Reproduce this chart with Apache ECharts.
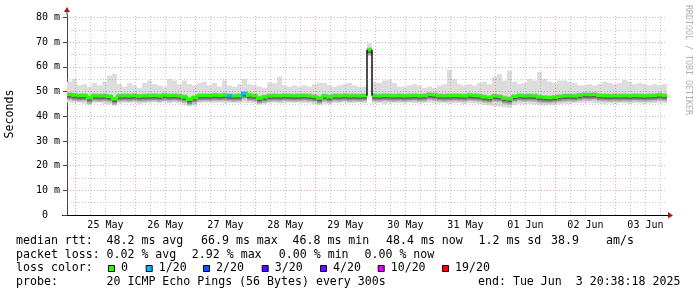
<!DOCTYPE html>
<html><head><meta charset="utf-8">
<script src="https://cdn.jsdelivr.net/npm/echarts@6/dist/echarts.min.js"></script>
<style>html,body{margin:0;padding:0;background:#fff}#c{width:697px;height:297px}</style>
</head><body><div id="c"></div>
<script>
// time axis in hours after 24 May 00:00 ; end = 3 Jun 20:38 (260.633 h), 10 days shown
const START_H = 20.633;
const END_H = 260.633;
const STEP_H = 2;

const medianMs = [
 48.8,48.5,48.3,48.4,47.4,48.3,48.2,48.3,48.0,47.0,48.2,48.3,48.2,48.4,48.1,48.2,48.3,48.4,48.2,48.5,
 48.3,48.4,48.2,47.8,46.8,47.5,48.3,48.4,48.3,48.5,48.4,48.5,48.3,48.2,48.3,49.2,48.5,48.3,47.3,47.8,
 48.2,48.3,48.2,48.4,48.3,48.2,48.3,48.4,48.2,48.0,47.3,48.2,47.8,48.3,48.2,48.4,48.2,48.3,48.2,48.3,
 66.9,48.3,48.2,48.4,48.3,48.2,48.3,48.2,48.3,48.4,48.2,48.3,48.8,48.6,48.3,48.2,48.3,48.4,48.3,48.2,
 48.5,48.4,48.2,47.8,47.6,48.2,48.0,47.3,47.0,48.0,48.4,48.2,48.3,48.2,47.8,47.6,47.5,47.7,48.0,48.2,
 48.3,48.2,48.5,48.8,48.7,48.8,48.4,48.3,48.2,48.3,48.2,48.3,48.2,48.4,48.3,48.2,48.3,48.4,48.6,48.4
];
const smokeHighMs = [
 54,55,52.5,53,52,53.5,52.5,54,56.5,57.2,53,52,53.5,52.5,51.5,53.5,54.5,53,52.5,52,
 55,54.5,53,54.5,53,52.5,53.5,54,52.5,53.5,52,54.5,52.5,52,53,55,53,52.5,52,51.5,
 53.7,53.5,56,52.5,52,52.5,52,52.5,52,53,53.5,53.5,52.5,52,52.5,53,53.5,52.5,52,52,
 69.5,53.7,53.5,54.5,54.7,53.5,52,52,52.5,53,52.5,51.5,52,51.5,52.5,53,58.8,55,53,52.5,
 53,52.5,53.5,54,53,56,57,54.5,58.4,54,53,53.5,55,54.5,58,55,54,53.5,54.5,54.5,
 54,53.5,52.5,52.5,53,52.5,53,54,53.5,53,53.5,54.7,54,53,53.5,53,52.5,53,52.5,53
];
const smokeLowMs = [
 45.5,45.3,45.5,45,44.5,45.3,45.5,45,44.8,44.3,45.2,45.5,45.3,45.5,45,45.2,45.5,45.6,45.3,45.5,
 45.2,45.5,45.3,44.5,44,44.3,45.3,45.5,45.5,45.4,45.6,45.2,45.5,45.4,45.3,45.5,45.4,45.2,44.8,45,
 45.3,45.5,45.2,45.3,45.5,45.4,45.5,45.3,45.2,44.8,44.5,45,44.8,45.3,45.2,45.5,45.3,45.4,45.5,45.3,
 64.5,45.2,45.3,45,45.2,45.4,45.3,45.2,45.5,45.3,45.2,45.4,45.5,45.3,45.2,45.3,45,45.2,45.3,45,
 45.3,45.2,45,44.5,44.3,44,43.8,43.5,43.4,44.5,45,44.8,45,44.8,44.5,44.3,44.5,44.5,44.8,45,
 45,45.2,45.3,45.4,45.5,45.3,45.2,45,45.2,45,45.3,45.2,45,45.3,45.2,45,45.2,45.3,45.2,45.3
];
// loss level index per step (0 = 0/20, 1 = 1/20, ...)
const lossLevel = [
 0,0,0,0,0,0,0,0,0,0,0,0,0,0,0,0,0,0,0,0,
 0,0,0,0,0,0,0,0,0,0,0,0,1,0,0,1,0,0,0,0,
 0,0,0,0,0,0,0,0,0,0,0,0,0,0,0,0,0,0,0,0,
 0,0,0,0,0,0,0,0,0,0,0,0,0,0,0,0,0,0,0,0,
 0,0,0,0,0,0,0,0,0,0,0,0,0,0,0,0,0,0,0,0,
 0,0,0,0,0,0,0,0,0,0,0,0,0,0,0,0,0,0,0,0
];
const lossLabels = ['0','1/20','2/20','3/20','4/20','10/20','19/20'];
const lossColors = ['#26ff00','#00b8ff','#0059ff','#5e00ff','#7e00ff','#dd00ff','#ff0000'];

const dayLabelHours = [36,60,84,108,132,156,180,204,228,252];
const dayLabels = ['25 May','26 May','27 May','28 May','29 May','30 May','31 May','01 Jun','02 Jun','03 Jun'];
const dayBoundaryHours = [24,48,72,96,120,144,168,192,216,240];
const yLabelValues = [0,10,20,30,40,50,60,70,80];
const yMinorValues = [5,15,25,35,45,55,65,75];

const rttStats = ['median rtt:','48.2 ms avg','66.9 ms max','46.8 ms min','48.4 ms now','1.2 ms sd','38.9','am/s'];
const lossStats = ['packet loss:','0.02 % avg','2.92 % max','0.00 % min','0.00 % now'];
const probeText = ['probe:','20 ICMP Echo Pings (56 Bytes) every 300s'];
const endText = 'end: Tue Jun  3 20:38:18 2025';

const FONT = 'DejaVu Sans Mono';

// build custom-series items
const items = medianMs.map((m, i) => [
  START_H + i * STEP_H, START_H + (i + 1) * STEP_H,
  smokeLowMs[i], smokeHighMs[i], m, lossLevel[i], i > 0 ? medianMs[i - 1] : NaN
]);

function renderSmoke(params, api) {
  const x0 = api.value(0), x1 = api.value(1);
  const lo = api.value(2), hi = api.value(3), md = api.value(4);
  const loss = api.value(5), pm = api.value(6);
  const L = api.coord([x0, 0])[0], R = api.coord([x1, 0])[0];
  const Y = v => api.coord([x0, v])[1];
  const band = (a, b, color) => ({type:'rect', shape:{x:L, y:Y(b), width:R-L, height:Y(a)-Y(b)}, style:{fill:color}});
  const ch = [
    band(lo, hi, '#dddddd'),
    band(Math.max(lo, md - 2.4), Math.min(hi, md + 1.0), '#bcbcbc'),
    band(md - 1.8, md + 0.6, '#8e8e8e'),
    band(md - 1.2, md + 0.2, '#606060')
  ];
  const col = lossColors[loss];
  const my = Y(md);
  ch.push({type:'rect', shape:{x:L, y:my - 1.5, width:R - L, height:3}, style:{fill:col}});
  if (!isNaN(pm)) {
    const py = Y(pm);
    if (Math.abs(pm - md) > 5) {
      ch.push({type:'line', shape:{x1:L, y1:py, x2:L, y2:my}, style:{stroke:'#111', lineWidth:1.5}});
    } else if (Math.abs(py - my) > 0.5) {
      ch.push({type:'rect', shape:{x:L - 1, y:Math.min(py, my) - 1.5, width:2, height:Math.abs(py - my) + 3}, style:{fill:col}});
    }
  }
  return {type:'group', children:ch};
}

const minorGrid = 'rgba(140,140,140,0.45)';
const majorGrid = 'rgba(225,60,60,0.45)';
const gridMarks = [];
for (let h = 24; h < END_H; h += 6) {
  const major = dayBoundaryHours.indexOf(h) >= 0;
  gridMarks.push({xAxis:h, lineStyle:{color: major ? majorGrid : minorGrid, type:[1,2], width:1}});
}
yMinorValues.forEach(v => gridMarks.push({yAxis:v, lineStyle:{color:minorGrid, type:[1,2], width:1}}));
yLabelValues.filter(v => v > 0).forEach(v => gridMarks.push({yAxis:v, lineStyle:{color:majorGrid, type:[1,2], width:1}}));

const chart = echarts.init(document.getElementById('c'));
const option = {
  animation:false,
  backgroundColor:'#fff',
  grid:{left:67, right:30, top:15, bottom:82},
  xAxis:{
    type:'value', min:START_H, max:END_H,
    axisLine:{show:true, onZero:false, lineStyle:{color:'#000', width:1}},
    axisTick:{show:false},
    splitLine:{show:false},
    axisLabel:{customValues:dayLabelHours,
      formatter:v => { const k = dayLabelHours.indexOf(v); return k >= 0 ? dayLabels[k] : ''; },
      fontFamily:FONT, fontSize:10, color:'#000', margin:5}
  },
  yAxis:{
    type:'value', min:0, max:81,
    axisLine:{show:true, onZero:false, lineStyle:{color:'#444', width:1}},
    axisTick:{show:true, customValues:yLabelValues, length:4, lineStyle:{color:'#444'}},
    splitLine:{show:false},
    axisLabel:{customValues:yLabelValues, formatter:v => (v === 0 ? '0  ' : (v % 10 === 0 && v <= 80 ? v + ' m' : '')),
      fontFamily:FONT, fontSize:10, color:'#000', margin:7}
  },
  series:[
    {type:'custom', z:2, clip:true, renderItem:renderSmoke, data:items,
     encode:{x:[0,1], y:[2,3]}, silent:true},
    {type:'line', z:5, data:[[START_H,0],[END_H,0]], symbol:'none', lineStyle:{opacity:0}, silent:true,
     markLine:{silent:true, symbol:['none','none'], label:{show:false}, animation:false, data:gridMarks}}
  ]
};
chart.setOption(option);

// decorations: axis arrows, texts, legend
const o = chart.convertToPixel({gridIndex:0}, [START_H, 0]);
const e = chart.convertToPixel({gridIndex:0}, [END_H, 81]);
const ARROW = '#a01818';
const TF = '11.6px ' + FONT;
const txt = (x, y, s) => ({type:'text', x:x, y:y, style:{text:s, font:TF, fill:'#000', textVerticalAlign:'middle'}});
const g = [
  {type:'line', shape:{x1:o[0]-5, y1:o[1]+0.5, x2:o[0], y2:o[1]+0.5}, style:{stroke:'#000', lineWidth:1}},
  {type:'line', shape:{x1:o[0], y1:e[1], x2:o[0], y2:e[1]-3}, style:{stroke:'#444', lineWidth:1}},
  {type:'line', shape:{x1:e[0], y1:o[1]+0.5, x2:e[0]+1, y2:o[1]+0.5}, style:{stroke:'#000', lineWidth:1}},
  {type:'polygon', shape:{points:[[o[0]-3, e[1]-3],[o[0]+3, e[1]-3],[o[0], e[1]-8]]}, style:{fill:ARROW}},
  {type:'polygon', shape:{points:[[e[0]+1, o[1]-3],[e[0]+1, o[1]+3.5],[e[0]+6, o[1]+0.5]]}, style:{fill:ARROW}},
  {type:'text', x:10, y:114, rotation:Math.PI/2, style:{text:'Seconds', font:TF, fill:'#000', textAlign:'center', textVerticalAlign:'middle'}},
  {type:'text', x:688, y:60, rotation:-Math.PI/2, style:{text:'RRDTOOL / TOBI OETIKER', font:'8.3px ' + FONT, fill:'#b0b0b0', textAlign:'center', textVerticalAlign:'middle'}}
];
const rttX = [16, 106.5, 201, 292.5, 386, 478.5, 551, 606];
rttStats.forEach((s, k) => g.push(txt(rttX[k], 240.5, s)));
const lossX = [16, 106.5, 191.8, 278.8, 364.5];
lossStats.forEach((s, k) => g.push(txt(lossX[k], 254.5, s)));
g.push(txt(16, 268, 'loss color:'));
g.push(txt(16, 281.5, probeText[0]));
g.push(txt(106.5, 281.5, probeText[1]));
g.push(txt(478, 281.5, endText));
const boxX = [108, 145.7, 203, 261.7, 320, 377.7, 442];
lossLabels.forEach((lab, k) => {
  g.push({type:'rect', shape:{x:boxX[k]+0.5, y:265.5, width:6, height:6}, style:{fill:lossColors[k], stroke:'#000', lineWidth:1}});
  g.push(txt(boxX[k]+13, 268, lab));
});
chart.setOption({graphic:g});
</script>
</body></html>
